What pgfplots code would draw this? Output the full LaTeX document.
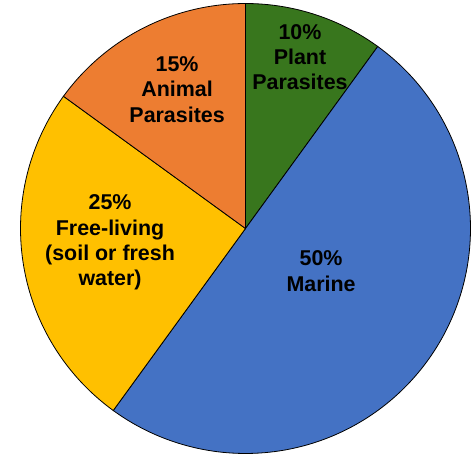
\documentclass[border=0pt]{standalone}
\usepackage{pgfplots}
\pgfplotsset{compat=1.18}
\usepackage{fontspec}
\setmainfont{Liberation Sans}
\definecolor{cgreen}{HTML}{38761D}
\definecolor{cblue}{HTML}{4472C4}
\definecolor{cyellow}{HTML}{FFC000}
\definecolor{corange}{HTML}{ED7D31}
\tikzset{lbl/.style={font=\fontsize{21.5}{25.5}\selectfont\bfseries, align=center, text=black, inner sep=0pt}}
% Shares (percent): Plant Parasites 10, Marine 50, Free-living 25, Animal Parasites 15
% Slices run clockwise from 12 o'clock: angle = 90 - 3.6*cumulative percent
\begin{document}
\begin{tikzpicture}
\begin{axis}[
  scale only axis, width=475bp, height=457bp,
  xmin=-1.0911, xmax=1.02, ymin=-1.0156, ymax=1.0156,
  hide axis, clip=false,
]
\addplot[draw=none, forget plot] coordinates {(-1.0911,-1.0156) (1.02,1.0156)};
% Plant Parasites 10% : 90 -> 54
\addplot[fill=cgreen, draw=black, line width=0.8bp, domain=54:90, samples=40, variable=\t] ({cos(t)},{sin(t)}) -- (axis cs:0,0) -- cycle;
% Marine 50% : 54 -> -126
\addplot[fill=cblue, draw=black, line width=0.8bp, domain=-126:54, samples=150, variable=\t] ({cos(t)},{sin(t)}) -- (axis cs:0,0) -- cycle;
% Free-living 25% : -126 -> -216
\addplot[fill=cyellow, draw=black, line width=0.8bp, domain=-216:-126, samples=80, variable=\t] ({cos(t)},{sin(t)}) -- (axis cs:0,0) -- cycle;
% Animal Parasites 15% : -216 -> -270
\addplot[fill=corange, draw=black, line width=0.8bp, domain=-270:-216, samples=50, variable=\t] ({cos(t)},{sin(t)}) -- (axis cs:0,0) -- cycle;
\node[lbl] at (axis cs:0.242,0.762) {10\%\\Plant\\Parasites};
\node[lbl] at (axis cs:-0.304,0.618) {15\%\\Animal\\Parasites};
\node[lbl] at (axis cs:-0.602,-0.062) {25\%\\Free-living\\(soil or fresh\\water)};
\node[lbl] at (axis cs:0.336,-0.189) {50\%\\Marine};
\end{axis}
\end{tikzpicture}
\end{document}
